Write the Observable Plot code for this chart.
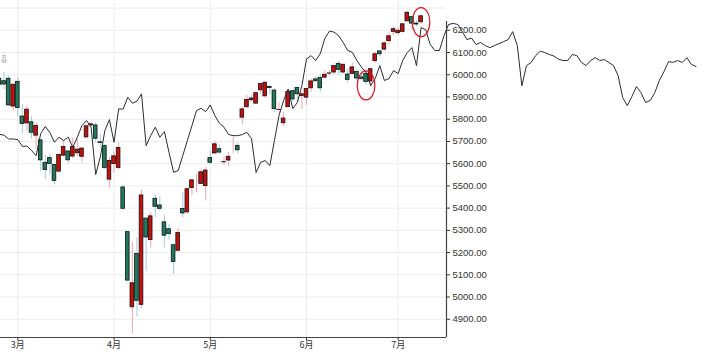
<!DOCTYPE html>
<html><head><meta charset="utf-8">
<script src="https://cdn.jsdelivr.net/npm/d3@7"></script>
<script src="https://cdn.jsdelivr.net/npm/@observablehq/plot@0.6"></script>
<style>body{margin:0;background:#fff;overflow:hidden}#chart svg{display:block}</style>
</head><body><div id="chart"></div>
<script>
// trading days (index k = position in this list)
const dates = ["02-25","02-26","02-27","02-28",
"03-03","03-04","03-05","03-06","03-07","03-10","03-11","03-12","03-13","03-14","03-17","03-18","03-19","03-20","03-21","03-24","03-25","03-26","03-27","03-28","03-31",
"04-01","04-02","04-03","04-04","04-07","04-08","04-09","04-10","04-11","04-14","04-15","04-16","04-17","04-21","04-22","04-23","04-24","04-25","04-28","04-29","04-30",
"05-01","05-02","05-05","05-06","05-07","05-08","05-09","05-12","05-13","05-14","05-15","05-16","05-19","05-20","05-21","05-22","05-23","05-27","05-28","05-29","05-30",
"06-02","06-03","06-04","06-05","06-06","06-09","06-10","06-11","06-12","06-13","06-16","06-17","06-18","06-20","06-23","06-24","06-25","06-26","06-27","06-30",
"07-01","07-02","07-03","07-07","07-08","07-09"];
const open = [5982,5971,5982,5857,
5968,5812,5781,5786,5726,5705,5604,5625,5594,5564,5636,5655,5632,5647,5631,5718,5772,5772,5696,5679,5528,
5598,5581,5493,5292,4954,5194,4965,5353,5256,5442,5412,5336,5305,5233,5208,5396,5381,5490,5529,5509,5499,
5625,5646,5665,5606,5614,5664,5680,5807,5854,5885,5870,5930,5903,5945,5929,5841,5782,5854,5926,5940,5904,
5897,5939,5979,5986,5987,6005,6010,6049,6010,6001,6004,6012,5988,6004,5970,6061,6105,6113,6151,6193,
6187,6193,6240,6259,6230,6236];
const high = [5993,6010,5994,5959,
5986,5865,5861,5812,5783,5705,5636,5642,5598,5645,5704,5655,5715,5711,5671,5775,5787,5784,5732,5686,5628,
5651,5695,5500,5292,5247,5267,5481,5353,5381,5459,5450,5367,5328,5233,5310,5470,5489,5528,5554,5572,5582,
5659,5701,5684,5632,5651,5720,5692,5853,5907,5906,5924,5959,5969,5953,5938,5878,5830,5924,5929,5943,5922,
5937,5981,5990,6000,6017,6021,6043,6059,6045,6026,6051,6023,6018,6018,6029,6102,6109,6147,6188,6215,
6211,6228,6285,6263,6243,6270];
const low = [5908,5933,5859,5838,
5811,5733,5742,5712,5666,5564,5528,5546,5505,5564,5631,5598,5622,5632,5603,5718,5764,5696,5671,5572,5489,
5559,5571,5391,5070,4835,4910,4948,5115,5221,5358,5386,5221,5256,5102,5208,5356,5372,5456,5469,5506,5433,
5597,5644,5640,5591,5587,5644,5645,5773,5846,5880,5867,5914,5896,5909,5831,5826,5767,5854,5881,5874,5844,
5861,5921,5966,5921,5979,5994,6000,6002,6004,5963,6004,5975,5972,5953,5943,6052,6080,6107,6132,6175,
6178,6187,6240,6202,6217,6226];
const close = [5955,5956,5862,5955,
5850,5778,5843,5739,5770,5615,5572,5599,5522,5639,5675,5615,5675,5663,5668,5768,5777,5712,5693,5581,5612,
5633,5671,5397,5074,5062,4983,5457,5268,5363,5406,5397,5276,5283,5158,5288,5376,5485,5525,5529,5561,5569,
5604,5687,5650,5607,5631,5664,5660,5844,5887,5893,5917,5958,5964,5940,5845,5842,5803,5922,5889,5912,5912,
5936,5970,5971,5939,6000,6006,6039,6022,6045,5977,6033,5983,5981,5968,6025,6092,6092,6141,6173,6205,
6198,6227,6279,6230,6226,6263];

// month ticks (index into dates) and labels
const monthTickK = [4, 25, 46, 67, 87];
const monthLabels = ["3月","4月","5月","6月","7月"];
const yTicks = [4900,5000,5100,5200,5300,5400,5500,5600,5700,5800,5900,6000,6100,6200];
const yGrid = [4900,5000,5100,5200,5300,5400,5500,5600,5700,5800,5900,6000,6100,6200,6300];

// comparison line, one value per trading-day slot starting at k = 0
const lineValues = [5732,5728,5711,5711,5708,5678,5679,5659,5636,5735,5767,5740,5696,5719,5704,5719,5674,5719,5771,5794,
5764,5551,5629,5749,5798,5696,5846,5846,5899,5872,5881,5914,5681,5726,5764,5719,5744,5650,5561,5569,
5636,5704,5771,5839,5849,5834,5864,5816,5782,5764,5731,5726,5726,5731,5741,5713,5560,5606,5614,5591,
5704,5816,5884,5936,5848,5875,5951,6071,6086,6064,6095,6163,6196,6192,6176,6145,6109,6101,6064,6034,
6010,5951,5983,6041,5974,5983,6019,6005,6064,6100,6122,6041,6212,6203,6136,6109,6109,6176,6226,6231,
6226,6194,6158,6165,6136,6145,6131,6122,6131,6140,6149,6158,6194,6131,5950,6041,6055,6086,6106,6100,
6091,6084,6070,6064,6064,6091,6086,6055,6041,6064,6077,6064,6068,6055,6041,5996,5897,5861,5902,5947,
5919,5875,5884,5919,5974,6014,6059,6056,6064,6055,6077,6046,6037];

// highlighted spots (red ellipses)
const circledK = [80, 92];
const circledValue = [5952, 6237];
// hollow marker
const markerK = [1];

const candles = dates.map((d, k) => ({k, date: d, o: open[k], h: high[k], l: low[k], c: close[k]}));
const lineData = lineValues.map((v, k) => ({k, v}));
const circled = circledK.map((k, j) => ({k, v: circledValue[j]}));
const markers = markerK.map(k => ({k, v: high[k]}));

const up = d => d.c >= d.o;
const ellipse = {draw(ctx) { // fixed-shape ellipse symbol
  const rx = 8.8, ry = 14.5, kx = rx * 0.5523, ky = ry * 0.5523;
  ctx.moveTo(rx, 0);
  ctx.bezierCurveTo(rx, ky, kx, ry, 0, ry);
  ctx.bezierCurveTo(-kx, ry, -rx, ky, -rx, 0);
  ctx.bezierCurveTo(-rx, -ky, -kx, -ry, 0, -ry);
  ctx.bezierCurveTo(kx, -ry, rx, -ky, rx, 0);
  ctx.closePath();
}};

const xDomain = [0.225, 97.55];
const yDomain = [4818, 6334];

const chart = Plot.plot({
  width: 705, height: 354,
  marginLeft: 0, marginRight: 259, marginTop: 0, marginBottom: 17,
  x: {domain: xDomain, axis: null},
  y: {domain: yDomain, axis: null},
  style: {background: "#fff", fontFamily: "'Liberation Sans', Arial, sans-serif"},
  marks: [
    Plot.ruleY(yGrid, {stroke: "#ececec", strokeWidth: 1}),
    Plot.ruleX(monthTickK, {stroke: "#ececec", strokeWidth: 1}),
    Plot.ruleX(candles, {x: "k", y1: "l", y2: "h", stroke: d => up(d) ? "#f2a3b3" : "#9fcbdc", strokeWidth: 1}),
    Plot.rect(candles, {x1: d => d.k - 0.4, x2: d => d.k + 0.4, y1: "o", y2: "c",
      fill: d => up(d) ? "#c80d0d" : "#1d7b5b", stroke: "#111", strokeWidth: 0.8}),
    Plot.line(lineData, {x: "k", y: "v", stroke: "#2b2b35", strokeWidth: 1}),
    Plot.dot(circled, {x: "k", y: "v", symbol: ellipse, stroke: "#e0101a", strokeWidth: 1.2, fill: "none"}),
    Plot.text(markers, {x: "k", y: "v", dy: -13, text: () => "⇩", fill: "#8a8a8a", fontSize: 11, fontFamily: "DejaVu Sans"}),
    Plot.ruleX([xDomain[1]], {y1: yDomain[0], y2: 6240, stroke: "#444", strokeWidth: 1.2}),
    Plot.ruleY([yDomain[0]], {stroke: "#444", strokeWidth: 1.2}),
    Plot.axisY(yTicks, {anchor: "right", label: null, tickSize: 3, tickPadding: 3, tickFormat: d => d.toFixed(2),
      fontSize: 9.5, stroke: "#333", fill: "#333"}),
    Plot.axisX(monthTickK, {anchor: "bottom", label: null, tickSize: 3, tickPadding: 1,
      tickFormat: k => monthLabels[monthTickK.indexOf(k)], fontSize: 9, fill: "#333", stroke: "#333",
      fontFamily: "'Noto Sans CJK SC', sans-serif"})
  ]
});
document.getElementById("chart").appendChild(chart);
</script>
</body></html>
